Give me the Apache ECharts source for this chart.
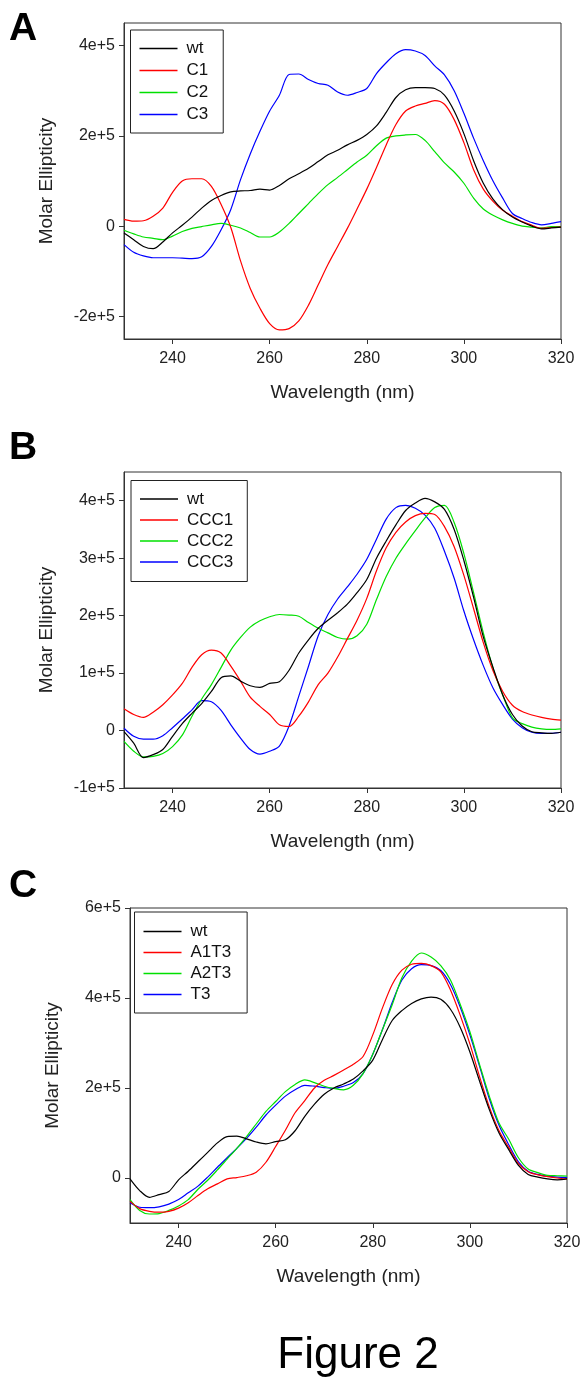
<!DOCTYPE html>
<html><head><meta charset="utf-8">
<script src="https://cdn.jsdelivr.net/npm/echarts@6/dist/echarts.min.js"></script>
<style>html,body{margin:0;padding:0;background:#fff}#c{width:588px;height:1391px}</style>
</head><body><div id="c"></div>
<script>
// Wavelength grid (nm)
const WL = [230,232,234,236,238,240,242,244,246,248,
            250,252,254,256,258,260,262,264,266,268,
            270,272,274,276,278,280,282,284,286,288,
            290,292,294,296,298,300,302,304,306,308,
            310,312,314,316,318,320];

// Panel A values (thousands)
const A_wt = [-15,-30,-45,-50,-35,-15,2,20,40,57,
              68,76,78,79,82,80,90,105,116,128,
              143,158,168,180,190,203,222,252,285,302,
              307,307,305,290,255,205,145,95,60,36,
              20,9,0,-6,-4,-2];
const A_C1 = [15,11,12,22,40,75,100,105,105,88,
              48,-3,-77,-138,-182,-216,-230,-227,-210,-175,
              -130,-85,-45,-5,38,82,130,180,225,255,
              266,272,278,270,236,185,125,82,55,35,
              22,10,2,-5,-3,-2];
const A_C2 = [-9,-17,-24,-27,-30,-22,-12,-5,-1,3,
              6,2,-4,-14,-24,-24,-13,6,28,50,
              72,92,108,125,142,157,178,195,200,202,
              203,190,165,140,120,95,62,38,24,14,
              6,0,-2,-4,-1,-1];
const A_C3 = [-41,-58,-66,-70,-70,-70,-71,-72,-68,-45,
              -8,37,103,160,210,255,290,336,337,325,
              316,312,297,290,296,305,338,362,382,391,
              388,378,355,335,300,250,195,145,100,62,
              28,17,8,3,6,10];

// Panel B values (thousands)
const B_wt = [-2,-22,-47,-42,-33,-10,12,30,47,68,
              92,95,86,78,75,82,85,105,135,158,
              178,192,205,220,240,263,300,330,358,383,
              396,404,398,385,350,296,232,163,110,62,
              28,8,-2,-4,-5,-3];
const B_CCC1 = [38,28,23,32,45,62,82,110,132,140,
                135,112,86,58,42,28,10,7,25,50,
                80,100,128,160,192,230,278,318,345,363,
                374,378,376,355,320,270,212,153,104,68,
                44,33,27,23,20,18];
const B_CCC2 = [-19,-36,-46,-45,-40,-28,-8,25,55,80,
                110,140,162,180,191,198,202,201,199,188,
                178,170,162,159,165,185,228,268,300,325,
                348,370,388,392,362,308,240,170,108,62,
                22,12,6,3,2,3];
const B_CCC3 = [4,-10,-15,-15,-9,5,20,36,52,50,
                35,10,-13,-33,-41,-36,-27,8,60,112,
                165,202,229,250,272,298,333,368,388,392,
                387,375,352,312,265,208,158,113,74,45,
                20,5,-3,-5,-5,-3];

// Panel C values (thousands)
const C_wt = [-2,-28,-43,-37,-30,-4,15,36,57,78,
              92,93,87,80,76,81,85,105,137,164,
              186,200,209,220,238,262,308,350,372,388,
              398,402,397,375,335,280,215,152,100,63,
              28,8,2,-2,-4,-2];
const C_A1T3 = [-52,-68,-74,-76,-74,-67,-55,-39,-24,-13,
                -2,1,5,13,35,70,106,145,172,200,
                217,228,240,253,270,318,378,430,462,475,
                477,472,458,418,362,298,225,158,105,68,
                32,14,7,3,0,-2];
const C_A2T3 = [-48,-72,-80,-79,-72,-62,-48,-25,-5,18,
                42,66,92,120,148,170,192,208,218,212,
                204,199,196,206,232,275,330,385,445,482,
                500,491,472,440,386,325,252,182,122,86,
                45,20,12,6,5,4];
const C_T3 = [-55,-65,-66,-64,-58,-48,-33,-18,2,24,
              45,66,88,113,140,162,182,196,206,204,
              201,199,204,212,232,275,330,390,440,465,
              474,472,461,430,380,318,248,176,117,74,
              36,15,8,4,2,1];

// Axis ticks / labels
const X_TICKS = [240,260,280,300,320];
const X_LABELS = ['240','260','280','300','320'];
const A_Y_TICKS = [-200000,0,200000,400000];
const A_Y_LABELS = ['-2e+5','0','2e+5','4e+5'];
const B_Y_TICKS = [-100000,0,100000,200000,300000,400000];
const B_Y_LABELS = ['-1e+5','0','1e+5','2e+5','3e+5','4e+5'];
const C_Y_TICKS = [0,200000,400000,600000];
const C_Y_LABELS = ['0','2e+5','4e+5','6e+5'];

const NAMES_A = ['wt','C1','C2','C3'];
const NAMES_B = ['wt','CCC1','CCC2','CCC3'];
const NAMES_C = ['wt','A1T3','A2T3','T3'];
const COLORS = ['#000000','#ff0000','#00e000','#0000ff'];

const FONT = '"Liberation Sans", Arial, sans-serif';

const panels = [
  {grid:{left:124,top:23,width:437,height:316}, yMin:-250000, yMax:450000,
   yT:A_Y_TICKS, yL:A_Y_LABELS, names:NAMES_A, vals:[A_wt,A_C1,A_C2,A_C3],
   legend:{left:130.5,top:30, padding:[10,15,10,9], gap:5}, letter:'A', letterY:28.5},
  {grid:{left:124,top:472,width:437,height:316}, yMin:-100000, yMax:450000,
   yT:B_Y_TICKS, yL:B_Y_LABELS, names:NAMES_B, vals:[B_wt,B_CCC1,B_CCC2,B_CCC3],
   legend:{left:131,top:480.5, padding:[10,14,11,9], gap:4}, letter:'B', letterY:448},
  {grid:{left:130,top:908,width:437,height:315}, yMin:-100000, yMax:600000,
   yT:C_Y_TICKS, yL:C_Y_LABELS, names:NAMES_C, vals:[C_wt,C_A1T3,C_A2T3,C_T3],
   legend:{left:134.5,top:912, padding:[11,16,10,9], gap:4}, letter:'C', letterY:885.5}
];

const option = {
  backgroundColor:'#ffffff',
  animation:false,
  grid:[], xAxis:[], yAxis:[], series:[], legend:[], graphic:[]
};

panels.forEach((p, i) => {
  option.grid.push(Object.assign({show:true, borderColor:'#333', borderWidth:1}, p.grid));
  option.xAxis.push({
    type:'value', gridIndex:i, min:230, max:320,
    name:'Wavelength (nm)', nameLocation:'middle', nameGap:44,
    nameTextStyle:{fontSize:19, color:'#222', fontFamily:FONT},
    axisLine:{show:true, onZero:false, lineStyle:{color:'#333', width:1}},
    axisTick:{show:true, length:5, lineStyle:{color:'#333'}, customValues:X_TICKS},
    axisLabel:{fontSize:16, color:'#222', fontFamily:FONT, margin:12, customValues:X_TICKS,
      formatter:v => X_LABELS[X_TICKS.indexOf(v)] ?? ''},
    splitLine:{show:false}
  });
  option.yAxis.push({
    type:'value', gridIndex:i, min:p.yMin, max:p.yMax,
    name:'Molar Ellipticity', nameLocation:'middle', nameGap:68,
    nameTextStyle:{fontSize:19, color:'#222', fontFamily:FONT},
    axisLine:{show:true, onZero:false, lineStyle:{color:'#333', width:1}},
    axisTick:{show:true, length:5, lineStyle:{color:'#333'}, customValues:p.yT},
    axisLabel:{fontSize:16, color:'#222', fontFamily:FONT, margin:9, customValues:p.yT,
      formatter:v => p.yL[p.yT.indexOf(v)] ?? ''},
    splitLine:{show:false}
  });
  p.names.forEach((n, k) => {
    option.series.push({
      type:'line', name:n, xAxisIndex:i, yAxisIndex:i,
      data: WL.map((w, j) => [w, p.vals[k][j] * 1000]),
      symbol:'none', showSymbol:false, smooth:0.3,
      lineStyle:{color:COLORS[k], width:1.2}, itemStyle:{color:COLORS[k]},
      z: 10 - k
    });
  });
  option.legend.push({
    data:p.names, orient:'vertical', left:p.legend.left, top:p.legend.top,
    padding:p.legend.padding, icon:'rect', itemWidth:38, itemHeight:1.5, itemGap:p.legend.gap,
    borderColor:'#222', borderWidth:1, backgroundColor:'#fff',
    selectedMode:false,
    textStyle:{fontSize:17, color:'#111', fontFamily:FONT, padding:[0,0,0,4]}
  });
  option.graphic.push({
    type:'text', left:9, top:p.letterY - 19,
    style:{text:p.letter, font:'bold 39px ' + FONT, fill:'#000'}
  });
});

option.graphic.push({
  type:'text', x:358, y:1356,
  style:{text:'Figure 2', font:'44px ' + FONT, fill:'#000', align:'center', verticalAlign:'middle'}
});

const chart = echarts.init(document.getElementById('c'), null, {renderer:'canvas'});
chart.setOption(option);
</script>
</body></html>
